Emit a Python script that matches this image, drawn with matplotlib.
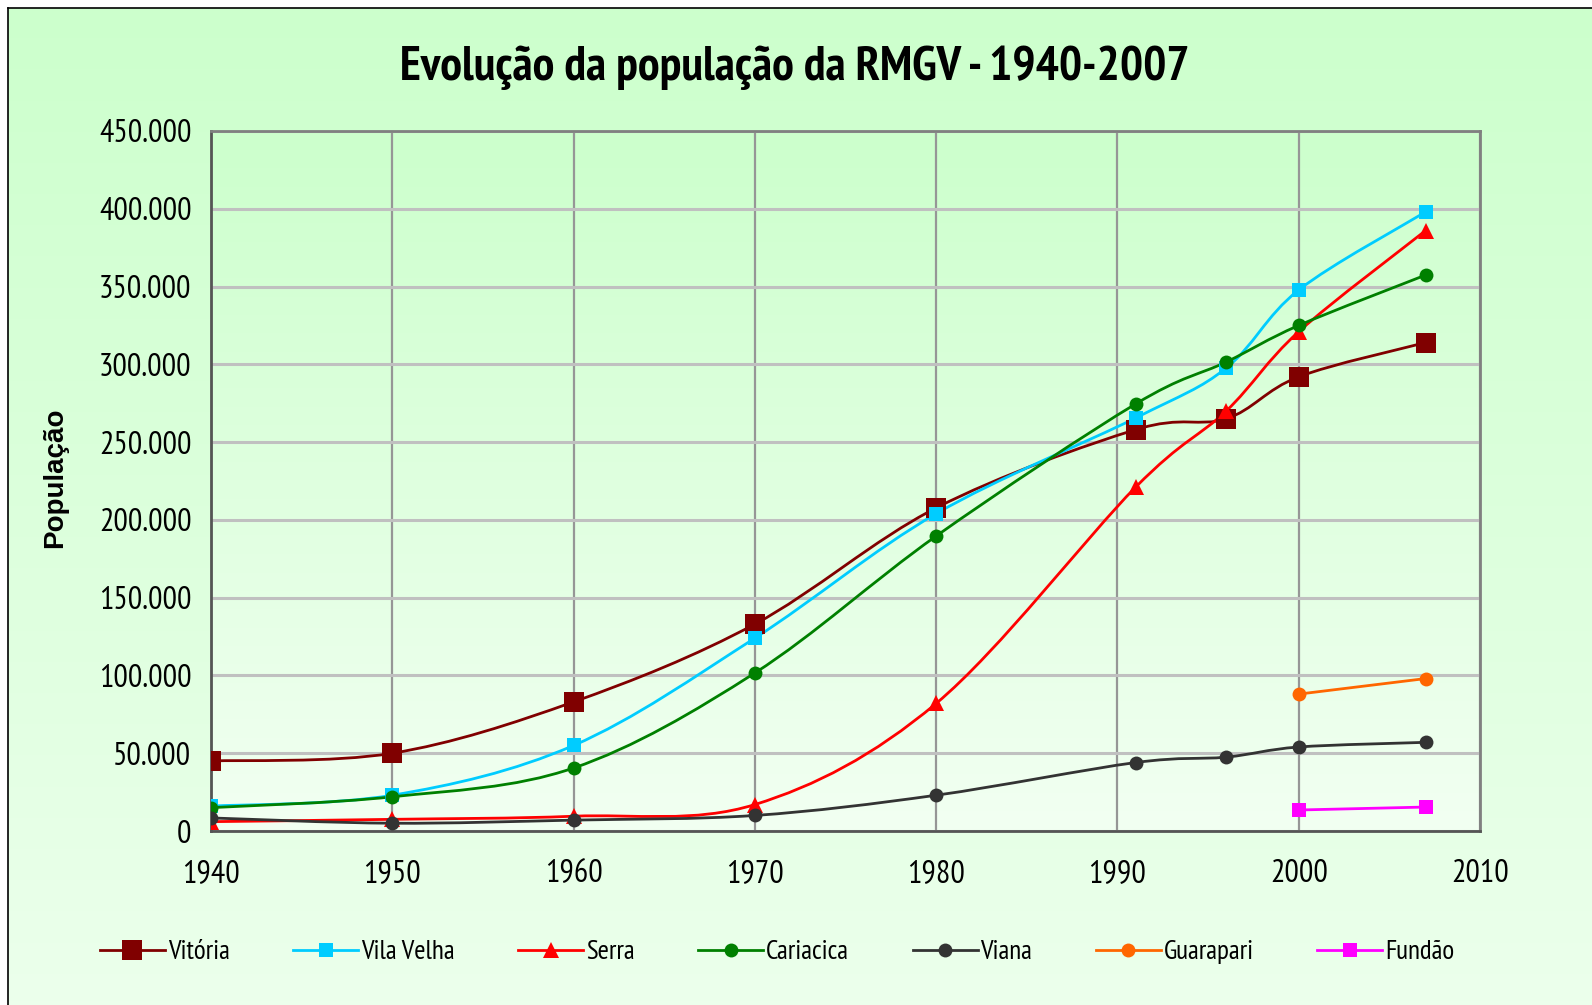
import numpy as np
import matplotlib
matplotlib.use("Agg")
import matplotlib.pyplot as plt
from matplotlib import font_manager as fm
from matplotlib.path import Path
from matplotlib.patches import PathPatch
from matplotlib.lines import Line2D
from matplotlib.ticker import FuncFormatter

anos = [1940, 1950, 1960, 1970, 1980, 1991, 1996, 2000, 2007]
anos_novos = [2000, 2007]

vitoria = [45000, 50000, 83000, 133000, 207700, 258000, 265000, 292000, 314000]
vila_velha = [16000, 23000, 55000, 124000, 204000, 265500, 297600, 347800, 398000]
serra = [6000, 7500, 9500, 17000, 82000, 221000, 270000, 321000, 386000]
cariacica = [15000, 22000, 40500, 101600, 189600, 274500, 301500, 325000, 357400]
viana = [8400, 5000, 7000, 10000, 23000, 44000, 47500, 54000, 57000]
guarapari = [88000, 98000]
fundao = [13500, 15400]

nomes = ["Vitória", "Vila Velha", "Serra", "Cariacica", "Viana", "Guarapari", "Fundão"]
cores = ["#800000", "#00CCFF", "#FF0000", "#008000", "#333333", "#FF6600", "#FF00FF"]
marcadores = ["s", "s", "^", "o", "o", "o", "s"]
tamanhos = [15, 10, 12, 10, 10, 10, 10]

series = [(anos, vitoria), (anos, vila_velha), (anos, serra), (anos, cariacica),
          (anos, viana), (anos_novos, guarapari), (anos_novos, fundao)]


def peso(w):
    if isinstance(w, str):
        return {"bold": 700, "semibold": 600, "demibold": 600, "heavy": 800,
                "black": 900, "normal": 400, "regular": 400}.get(w.lower(), 400)
    return int(w)


# procura uma fonte estreita (tipo Arial Narrow) que tenha negrito
cands = {}
for f in fm.fontManager.ttflist:
    st = str(f.stretch)
    nm = f.name
    estreita = ("narrow" in nm.lower() or "condensed" in nm.lower()
                or st in ("condensed", "semi-condensed", "extra-condensed")
                or (st.isdigit() and int(st) < 500))
    if estreita:
        cands.setdefault((nm, st), set()).add(peso(f.weight))

fam, stretch, esc = "Liberation Sans", "normal", 0.86
melhor = None
for (nm, st), ws in cands.items():
    nota = (2 if "narrow" in nm.lower() else 0) + (1 if any(w >= 600 for w in ws) else 0) \
        + (1 if 400 in ws else 0) - (1 if "extra" in st else 0)
    if melhor is None or nota > melhor[0]:
        melhor = (nota, nm, st)
if melhor is not None:
    fam, stretch, esc = melhor[1], melhor[2], 1.0
narrow = [fam, "DejaVu Sans"]


def curva_suave(x, y):
    # bezier como a linha suavizada do Excel
    p = np.column_stack([x, y]).astype(float)
    n = len(p)
    verts = [p[0]]
    codes = [Path.MOVETO]
    for i in range(n - 1):
        a = p[i - 1] if i > 0 else p[i]
        d = p[i + 2] if i + 2 < n else p[i + 1]
        c1 = p[i] + (p[i + 1] - a) / 6.0
        c2 = p[i + 1] - (d - p[i]) / 6.0
        verts += [c1, c2, p[i + 1]]
        codes += [Path.CURVE4] * 3
    return Path(verts, codes)


fig = plt.figure(figsize=(15.92, 10.05), dpi=100)

# fundo com degradê
bg = fig.add_axes([8 / 1592, 0, 1 - 8 / 1592, 1 - 8 / 1005], zorder=-10)
grad = np.linspace(0, 1, 256).reshape(-1, 1)
top = np.array([204, 255, 204]) / 255
bot = np.array([236, 255, 236]) / 255
img = top[None, None, :] * (1 - grad[:, :, None]) + bot[None, None, :] * grad[:, :, None]
bg.imshow(img, aspect="auto", extent=[0, 1, 0, 1])
bg.set_xticks([])
bg.set_yticks([])
for s in ["right", "bottom"]:
    bg.spines[s].set_visible(False)
for s in ["top", "left"]:
    bg.spines[s].set_color("black")
    bg.spines[s].set_linewidth(1.2)

ax = fig.add_axes([211 / 1592, 1 - 831 / 1005, (1480 - 211) / 1592, 700 / 1005])
ax.set_xlim(1940, 2010)
ax.set_ylim(0, 450000)
bot2 = np.array([242, 255, 242]) / 255
img2 = top[None, None, :] * (1 - grad[:, :, None]) + bot2[None, None, :] * grad[:, :, None]
ax.imshow(img2, aspect="auto", extent=[1940, 2010, 0, 450000], zorder=0)
ax.patch.set_alpha(0)

ax.set_xticks(range(1940, 2011, 10))
ax.set_yticks(range(0, 450001, 50000))
ax.yaxis.grid(True, color="#C0C0C0", linewidth=2.2, zorder=1)
ax.xaxis.grid(True, color="#969696", linewidth=1.6, zorder=1)
ax.set_axisbelow(True)
ax.yaxis.set_major_formatter(FuncFormatter(lambda v, p: f"{int(v):,}".replace(",", ".")))
ax.tick_params(length=0, labelsize=23 * esc)
ax.tick_params(axis="y", pad=14)
ax.tick_params(axis="x", pad=20)
for lab in ax.get_xticklabels() + ax.get_yticklabels():
    lab.set_family(narrow)
    lab.set_stretch(stretch)

for s in ["top", "right"]:
    ax.spines[s].set_color("#808080")
    ax.spines[s].set_linewidth(2)
for s in ["left", "bottom"]:
    ax.spines[s].set_color("#555555")
    ax.spines[s].set_linewidth(2)

handles = []
for (x, y), nome, cor, mk, ms in zip(series, nomes, cores, marcadores, tamanhos):
    ax.add_patch(PathPatch(curva_suave(x, y), fill=False, edgecolor=cor, linewidth=2.0, zorder=3))
    ax.plot(x, y, linestyle="none", marker=mk, markersize=ms, color=cor,
            markeredgewidth=0, zorder=4)
    handles.append(Line2D([], [], color=cor, linewidth=2.0, marker=mk,
                          markersize=ms, markeredgewidth=0, label=nome))

fig.text(795 / 1592, 1 - 68 / 1005, "Evolução da população da RMGV - 1940-2007",
         ha="center", va="center", fontsize=35 * esc, fontweight="bold",
         family=narrow, fontstretch=stretch)
fig.text(55 / 1592, 1 - 478 / 1005, "População", rotation=90, ha="center", va="center",
         fontsize=20, fontweight="bold", family=["Liberation Sans", "DejaVu Sans"])

leg = fig.legend(handles=handles, loc="center", ncol=7, frameon=False,
                 bbox_to_anchor=(777 / 1592, 1 - 952 / 1005), handlelength=2.4,
                 handletextpad=0.1, columnspacing=2.35,
                 prop={"family": narrow, "size": 19.5 * esc, "stretch": stretch})

fig.savefig("out.png", dpi=100)
